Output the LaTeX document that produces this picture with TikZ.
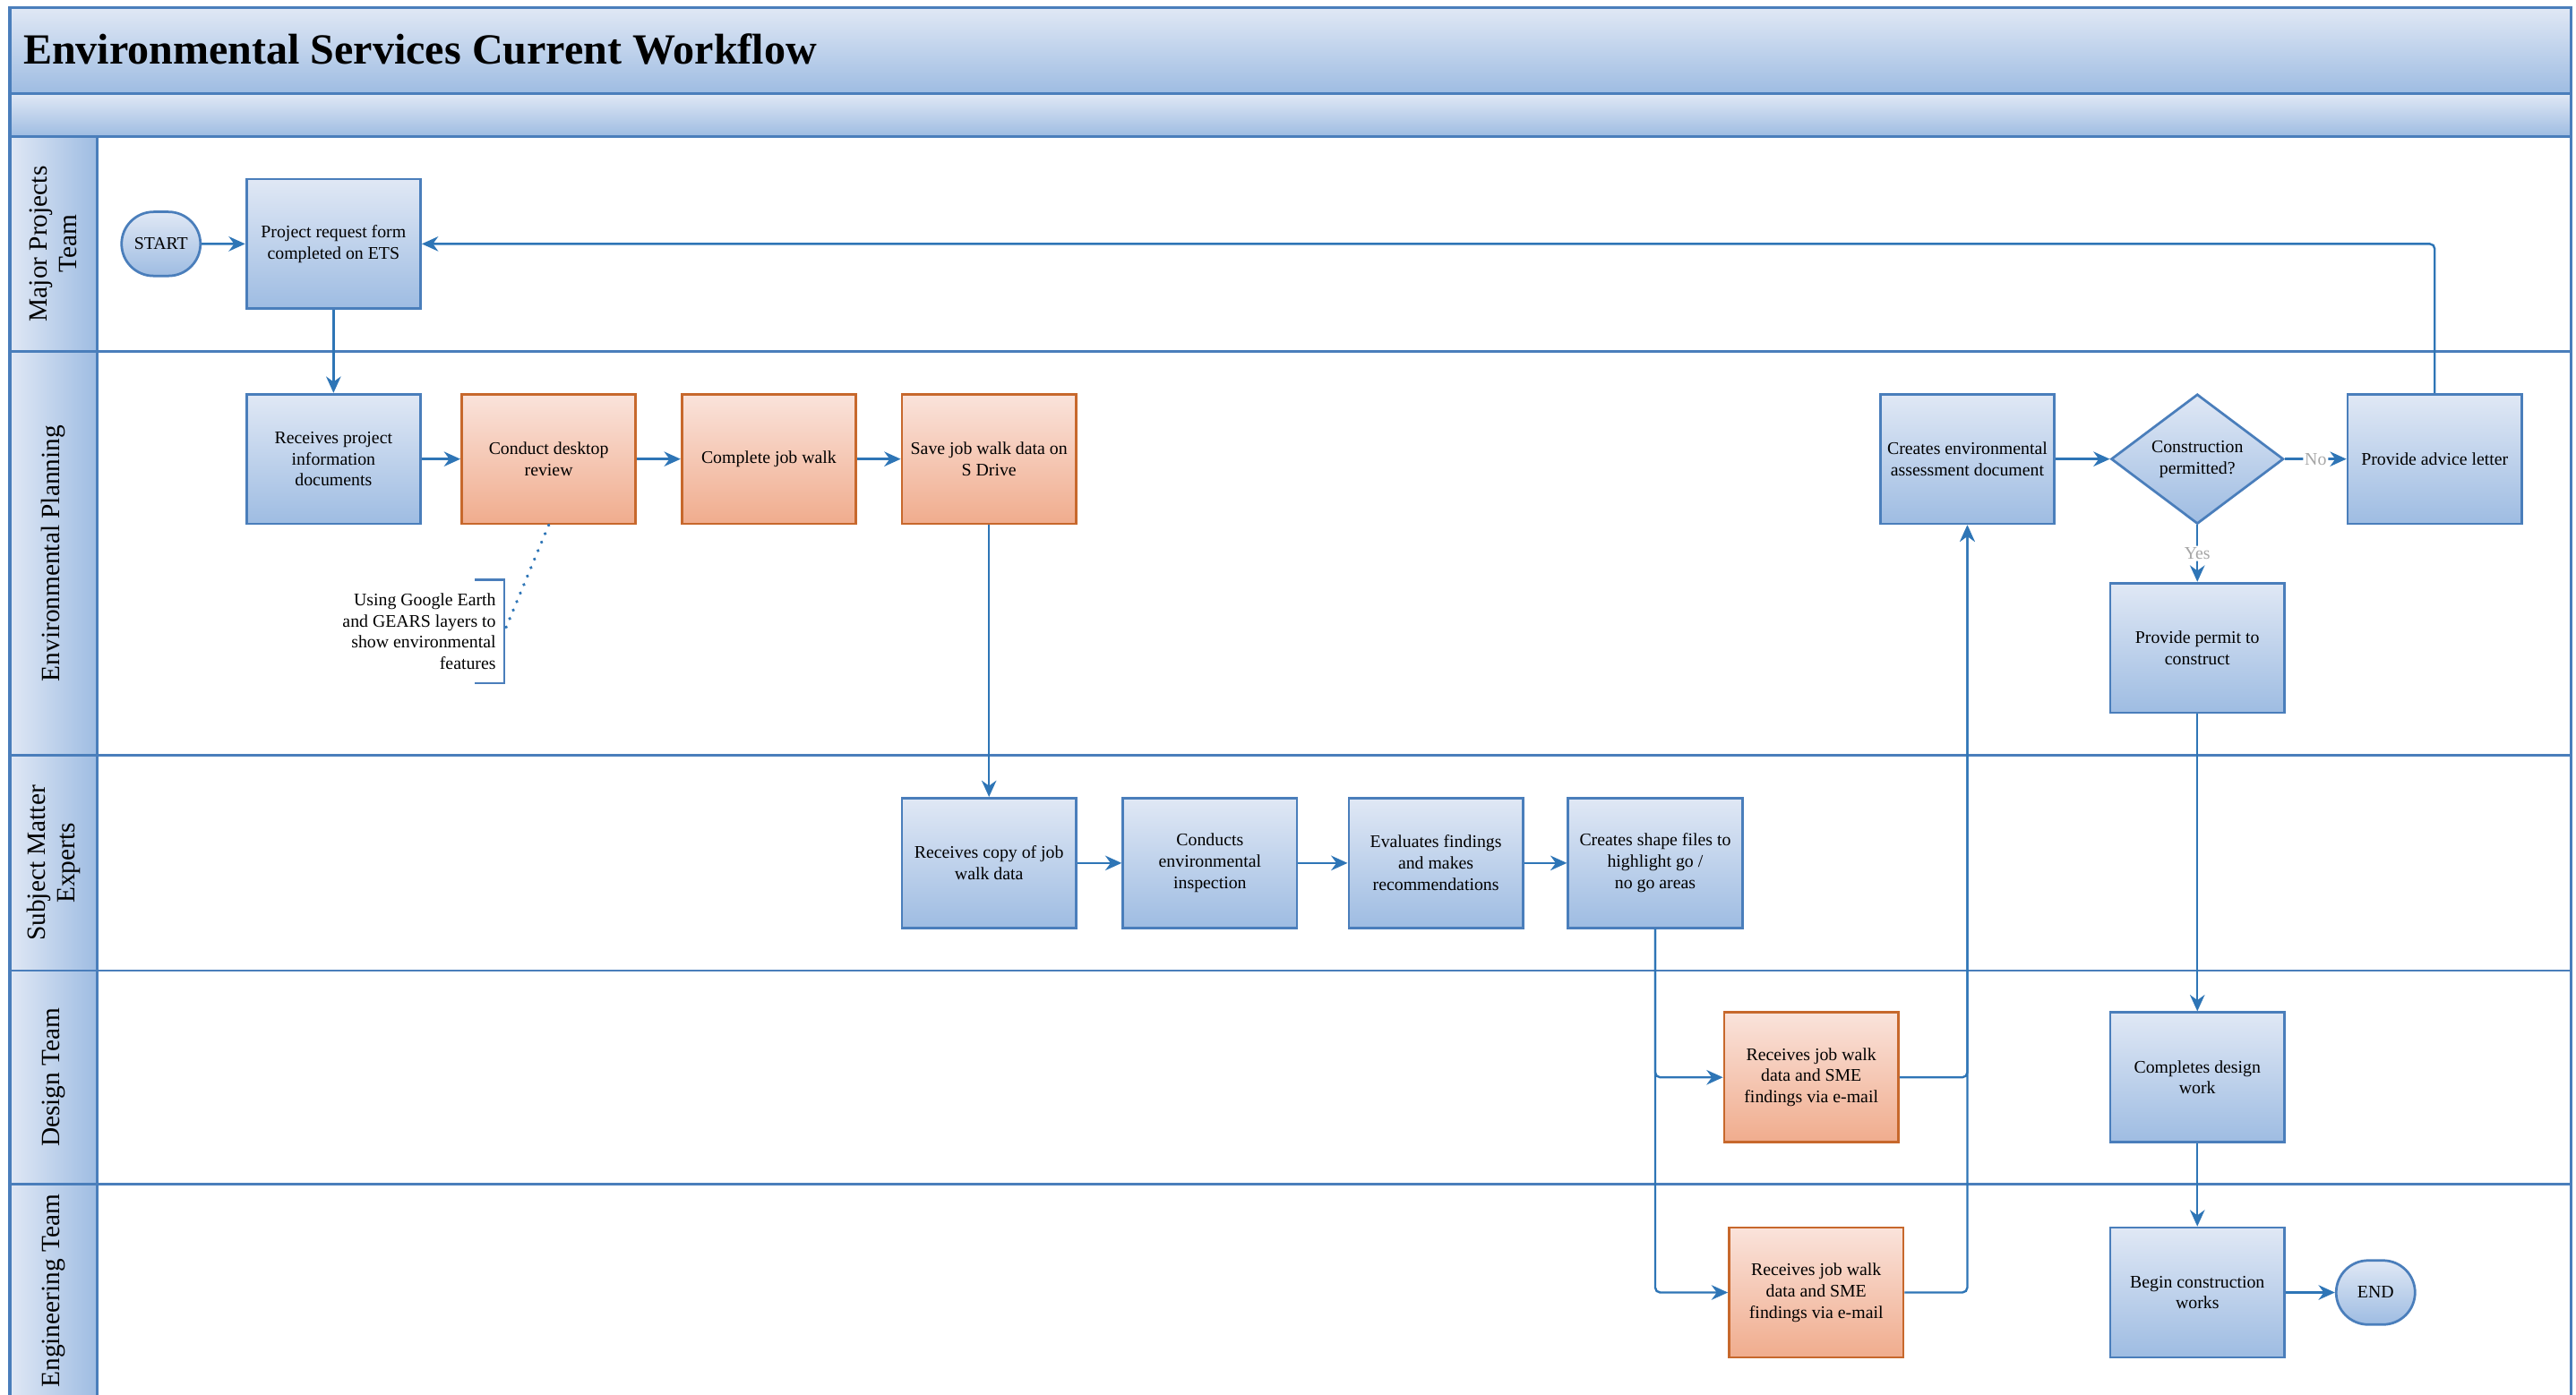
\documentclass[tikz,border=0pt]{standalone}
\usepackage{fontspec}
\setmainfont{Liberation Serif}
\usetikzlibrary{shapes.geometric, shapes.misc, arrows.meta, positioning}
\definecolor{wfline}{RGB}{74,126,187}
\definecolor{wfarrow}{RGB}{46,117,182}
\definecolor{wftop}{RGB}{224,232,245}
\definecolor{wfbot}{RGB}{158,188,226}
\definecolor{wfotop}{RGB}{250,227,219}
\definecolor{wfobot}{RGB}{240,172,141}
\definecolor{wfoline}{RGB}{199,104,44}
\definecolor{wfgray}{RGB}{166,166,166}
\tikzset{
  wf/.style = {rectangle, draw=wfline, top color=wftop, bottom color=wfbot,
    minimum width=106pt, minimum height=79pt, inner sep=2pt, align=center,
    line width=1.5pt, font=\fontsize{10.8}{13}\selectfont},
  wftask/.style = {wf, draw=wfoline, top color=wfotop, bottom color=wfobot},
  wfend/.style = {wf, rounded rectangle, minimum width=52pt, minimum height=39pt},
  wfdec/.style = {wf, diamond, aspect=1.33, inner sep=0pt, minimum width=105pt},
  wfpool/.style = {draw=wfline, line width=1.8pt},
  wfsep/.style = {draw=wfline, line width=1.5pt},
  wfbrk/.style = {draw=wfline, line width=1.5pt},
  wfseta/.style = {-{Stealth[length=10pt, width=9pt]}, line width=1.3pt,
    draw=wfarrow, rounded corners=3pt},
  wflig/.style = {draw=wfarrow, line width=2pt, line cap=round,
    dash pattern=on 0.1pt off 5.5pt},
  wfrot/.style = {rotate=90, align=center, font=\fontsize{16}{18}\selectfont},
  wfsim/.style = {fill=white, text=wfgray, inner sep=1pt,
    font=\fontsize{10.8}{13}\selectfont},
  wfnote/.style = {align=right, inner xsep=5pt, inner ysep=8pt,
    font=\fontsize{10.8}{13}\selectfont}
}

\begin{document}
\begin{tikzpicture}[x=1pt, y=-1pt]
  \useasboundingbox (0,0) rectangle (1568,849);
  \clip (0,0) rectangle (1568,849);
  % pool header, lane column and lane borders
  \fill [top color=wftop, bottom color=wfbot] (6,4.5) rectangle (1565,57);
  \fill [top color=wftop, bottom color=wfbot] (6,57) rectangle (1565,83);
  \fill [left color=wftop, right color=wfbot] (6,83) rectangle (59,880);
  \foreach \y in {57, 83, 214, 460, 591, 721} \draw [wfsep] (6,\y) -- (1565,\y);
  \draw [wfsep] (59,83) -- (59,880);
  \draw [wfpool] (6,4.5) rectangle (1565,880);
  \node [anchor=base west, inner xsep=0pt, font=\fontsize{26.2}{30}\selectfont\bfseries]
    (title) at (14,39) {Environmental Services Current Workflow};

  % lane names
  \node [wfrot] (lmp) at (32.5,148.5) {Major Projects\\Team};
  \node [wfrot] (lep) at (32.5,337) {Environmental Planning};
  \node [wfrot] (lsme) at (32.5,525.5) {Subject Matter\\Experts};
  \node [wfrot] (ldt) at (32.5,656) {Design Team};
  \node [wfrot] (let) at (32.5,786) {Engineering Team};

  % major projects team
  \node [wfend] (start) at (98,148.5) {START};
  \node [wf] (p1) at (203,148.5) {Project request form\\completed on ETS};

  % environmental planning
  \node [wf] (ri) at (203,279.5) {Receives project\\information\\documents};
  \node [wftask] (dr) at (334,279.5) {Conduct desktop\\review};
  \node [wftask] (jw) at (468,279.5) {Complete job walk};
  \node [wftask] (sd) at (602,279.5) {Save job walk data on\\S Drive};
  \node [wf] (ce) at (1197.5,279.5) {Creates environmental\\assessment document};
  \node [wfdec] (cp) at (1337.5,279.5) {Construction\\permitted?};
  \node [wf] (al) at (1482,279.5) {Provide advice letter};
  \node [wf] (pp) at (1337.5,394.5) {Provide permit to\\construct};
  \node [wfnote, anchor=east] (note) at (307,384.5)
    {Using Google Earth\\and GEARS layers to\\show environmental\\features};
  \draw [wfbrk] ([xshift=-18pt]note.north east) -- (note.north east)
    -- (note.south east) -- ([xshift=-18pt]note.south east);

  % subject matter experts
  \node [wf] (rc) at (602,525.5) {Receives copy of job\\walk data};
  \node [wf] (ci) at (736.5,525.5) {Conducts\\environmental\\inspection};
  \node [wf] (ef) at (874,525.5) {Evaluates findings\\and makes\\recommendations};
  \node [wf] (sf) at (1007.5,525.5) {Creates shape files to\\highlight go /\\no go areas};

  % design team
  \node [wftask] (dt) at (1102.5,656) {Receives job walk\\data and SME\\findings via e-mail};
  \node [wf] (cd) at (1337.5,656) {Completes design\\work};

  % engineering team
  \node [wftask] (et) at (1105.5,787) {Receives job walk\\data and SME\\findings via e-mail};
  \node [wf] (bc) at (1337.5,787) {Begin construction\\works};
  \node [wfend] (fin) at (1446,787) {END};

  % flow
  \foreach \a/\b in {start/p1, p1/ri, ri/dr, dr/jw, jw/sd, sd/rc, rc/ci, ci/ef,
    ef/sf, ce/cp, pp/cd, cd/bc, bc/fin} \draw [wfseta] (\a) -- (\b);
  \draw [wfseta] (cp) -- node [wfsim] {No} (al);
  \draw [wfseta] (cp) -- node [wfsim] {Yes} (pp);
  \draw [wfseta] (sf.south) |- (dt.west);
  \draw [wfseta] (sf.south) |- (et.west);
  \draw [wfseta] (dt.east) -| (ce.south);
  \draw [wfseta] (et.east) -| (ce.south);
  \draw [wfseta] (al.north) |- (p1.east);
  \draw [wflig] (dr.south) -- (note.east);
\end{tikzpicture}
\end{document}
